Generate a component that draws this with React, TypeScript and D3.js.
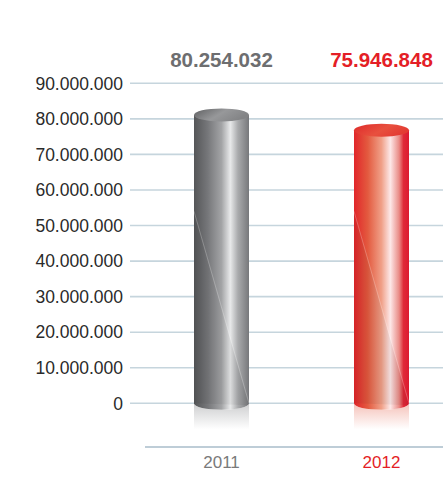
import React from "react";
import * as d3 from "d3";

const years = ["2011", "2012"];
const values = [80254032, 75946848];
const valueLabels = ["80.254.032", "75.946.848"];
const tickValues = [0, 10e6, 20e6, 30e6, 40e6, 50e6, 60e6, 70e6, 80e6, 90e6];
const tickLabels = [
  "0",
  "10.000.000",
  "20.000.000",
  "30.000.000",
  "40.000.000",
  "50.000.000",
  "60.000.000",
  "70.000.000",
  "80.000.000",
  "90.000.000",
];

const W = 443;
const H = 477;

const palettes = [
  {
    id: "gray",
    text: "#6d6e70",
    year: "#7a7a7a",
    body: [
      [0, "#555658"],
      [0.25, "#76777a"],
      [0.5, "#a3a4a6"],
      [0.66, "#e8e9ea"],
      [0.8, "#a9aaac"],
      [1, "#77787b"],
    ],
    top: [
      [0, "#5e5f61"],
      [0.55, "#97989a"],
      [1, "#838486"],
    ],
    refl: "#b8b9bb",
  },
  {
    id: "red",
    text: "#e41e26",
    year: "#e41e26",
    body: [
      [0, "#e1262a"],
      [0.25, "#e35a3f"],
      [0.5, "#f0a088"],
      [0.66, "#fde8e8"],
      [0.82, "#e98b86"],
      [0.9, "#e02a38"],
      [1, "#dc1a30"],
    ],
    top: [
      [0, "#de2a2a"],
      [0.6, "#e8503e"],
      [1, "#e33b33"],
    ],
    refl: "#f0a89c",
  },
];

export default function App() {
  const y = d3.scaleLinear().domain([0, 90e6]).range([403.3, 83.3]);
  const x = d3
    .scaleBand<string>()
    .domain(years)
    .range([145, 458])
    .paddingInner(0.65625)
    .paddingOuter(0.30625);

  const bw = x.bandwidth();
  const rx = bw / 2;
  const ry = 6.5;
  const base = y(0);
  const font = "'Liberation Sans', Arial, Helvetica, sans-serif";

  return (
    <svg
      width={W}
      height={H}
      style={{ position: "absolute", left: 0, top: 0, display: "block", background: "#fff" }}
    >
      <defs>
        <linearGradient id="vline" x1="0" y1="0" x2="0" y2="1">
          <stop offset="0" stopColor="#f3f6f8" />
          <stop offset="0.6" stopColor="#dfe7ec" />
          <stop offset="1" stopColor="#a9bfcb" />
        </linearGradient>
        {palettes.map((p) => (
          <React.Fragment key={p.id}>
            <linearGradient id={`body-${p.id}`} x1="0" y1="0" x2="1" y2="0">
              {p.body.map(([o, c], i) => (
                <stop key={i} offset={o as number} stopColor={c as string} />
              ))}
            </linearGradient>
            <linearGradient id={`top-${p.id}`} x1="0" y1="0" x2="1" y2="0.4">
              {p.top.map(([o, c], i) => (
                <stop key={i} offset={o as number} stopColor={c as string} />
              ))}
            </linearGradient>
            <linearGradient id={`refl-${p.id}`} x1="0" y1="0" x2="0" y2="1">
              <stop offset="0" stopColor={p.refl} stopOpacity={0.7} />
              <stop offset="1" stopColor={p.refl} stopOpacity={0} />
            </linearGradient>
          </React.Fragment>
        ))}
      </defs>

      {/* faint vertical guide */}
      <line x1={145} x2={145} y1={5} y2={447} stroke="url(#vline)" strokeWidth={1.5} />

      {/* grid */}
      {tickValues.map((t, i) => (
        <g key={t}>
          <line
            x1={130}
            x2={W}
            y1={y(t)}
            y2={y(t)}
            stroke="#c6d5dd"
            strokeWidth={1.6}
          />
          <text
            x={123}
            y={y(t)}
            dy="0.36em"
            textAnchor="end"
            fontFamily={font}
            fontSize={17.5}
            fill="#2a2a2a"
          >
            {tickLabels[i]}
          </text>
        </g>
      ))}

      {/* bottom axis */}
      <line x1={145} x2={W} y1={447} y2={447} stroke="#a8bdca" strokeWidth={1.6} />

      {years.map((yr, i) => {
        const p = palettes[i];
        const x0 = x(yr)!;
        const x1 = x0 + bw;
        const cx = x0 + rx;
        const top = y(values[i]) - 3;
        const diagStart = base - 0.6 * (base - y(90e6));
        const bodyPath = `M${x0},${top} L${x0},${base} A${rx},${ry} 0 0 0 ${x1},${base} L${x1},${top} Z`;
        const reflPath = `M${x0},${base} A${rx},${ry} 0 0 0 ${x1},${base} L${x1},${base + 26} L${x0},${base + 26} Z`;
        return (
          <g key={yr}>
            <path d={reflPath} fill={`url(#refl-${p.id})`} />
            <path d={bodyPath} fill={`url(#body-${p.id})`} />
            <path
              d={`M${x0},${diagStart} L${x1},${base + ry * 0.3} L${x0},${base} Z`}
              fill="#000"
              opacity={0.05}
            />
            <line
              x1={x0}
              y1={diagStart}
              x2={x1}
              y2={base}
              stroke="#fff"
              strokeOpacity={0.3}
              strokeWidth={0.8}
            />
            <ellipse cx={cx} cy={top} rx={rx} ry={ry} fill={`url(#top-${p.id})`} />
            <text
              x={cx}
              y={67}
              textAnchor="middle"
              fontFamily={font}
              fontWeight="bold"
              fontSize={20.5}
              fill={p.text}
            >
              {valueLabels[i]}
            </text>
            <text
              x={cx}
              y={468}
              textAnchor="middle"
              fontFamily={font}
              fontSize={17}
              fill={p.year}
            >
              {yr}
            </text>
          </g>
        );
      })}
    </svg>
  );
}
